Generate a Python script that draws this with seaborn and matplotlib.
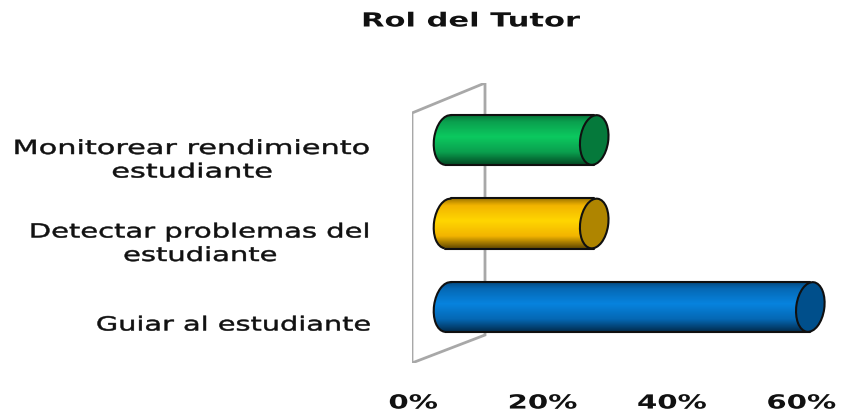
import numpy as np
import pandas as pd
import seaborn as sns
import matplotlib
matplotlib.use('Agg')
import matplotlib.pyplot as plt
from matplotlib.colors import LinearSegmentedColormap
from matplotlib.patches import Ellipse, Arc, Polygon
from matplotlib.patheffects import AbstractPathEffect
from matplotlib.transforms import Affine2D, ScaledTranslation

categories = ['Monitorear rendimiento\nestudiante', 'Detectar problemas del\nestudiante', 'Guiar al estudiante']
values = [22.6, 22.6, 56]
tick_values = [0, 20, 40, 60]
tick_labels = ['0%', '20%', '40%', '60%']
title = 'Rol del Tutor'

bright = ['#0CC95F', '#FFD600', '#0783DE']
mid = ['#0A9F4E', '#F2B400', '#0568B4']
dark = ['#034A24', '#5E4600', '#022C4E']
cap = ['#05793B', '#AF8500', '#004F8B']

W, H = 841, 415
wall_color = '#A8A8A8'
cap_rx = 14      # pixels, half width of the cylinder ends
bar_px = 50
tilt = -8
depth_shift = 5.4   # tick labels sit on the front of the wall, bars in the middle
label_stretch = [1.56, 1.49, 1.48]


class WideText(AbstractPathEffect):
    # the source image is stretched sideways, so stretch the glyphs the same way
    def __init__(self, sx, x0, stroke=0.0):
        super().__init__()
        self.sx = sx
        self.x0 = x0
        self.stroke = stroke

    def draw_path(self, renderer, gc, tpath, affine, rgbFace=None):
        stretch = Affine2D().translate(-self.x0, 0).scale(self.sx, 1).translate(self.x0, 0)
        gc0 = renderer.new_gc()
        gc0.copy_properties(gc)
        if self.stroke:
            gc0.set_linewidth(self.stroke)
            gc0.set_foreground(rgbFace)
        renderer.draw_path(gc0, tpath, affine + stretch, rgbFace)
        gc0.restore()


sns.set_theme(style='white')
plt.rcParams['font.family'] = ['DejaVu Sans']

df = pd.DataFrame({'categoria': categories, 'valor': values})

fig = plt.figure(figsize=(W / 100, H / 100), dpi=100)
left, right, top, bottom = 412, 830, 83, 363
ax = fig.add_axes([left / W, 1 - bottom / H, (right - left) / W, (bottom - top) / H])

# wall behind the bars
wall = Polygon([[0, 250 / 280], [73 / 418, 1], [73 / 418, 28 / 280], [0, 0]], closed=True,
               facecolor='white', edgecolor=wall_color, lw=2, transform=ax.transAxes, zorder=1)
ax.add_patch(wall)

sns.barplot(data=df, y='categoria', x='valor', hue='categoria', palette=bright, legend=False,
            width=0.6, saturation=1, ax=ax, zorder=2, linewidth=0)

for s in ax.spines.values():
    s.set_visible(False)
ax.patch.set_visible(False)
ax.set_xlabel('')
ax.set_ylabel('')

ax.set_xticks([t - depth_shift for t in tick_values])
ax.set_xticklabels(tick_labels, fontsize=14, fontweight='bold', color='#111111')
ax.tick_params(axis='x', length=0, pad=22)
ax.set_yticks(range(len(categories)))
ax.set_yticklabels(categories, fontsize=14, ha='right', ma='center', color='#111111', linespacing=1.3)
ax.tick_params(axis='y', length=0, pad=29)
for lab in ax.get_yticklabels():
    lab.set_transform(lab.get_transform() + ScaledTranslation(0, -16 / 100, fig.dpi_scale_trans))

# dark at the edges, brightest a little above the middle
shade = np.abs(np.linspace(-1, 1.25, 64)).reshape(-1, 1)
for i, val in enumerate(values):
    yc = i
    half = 0.3
    body = ax.patches[i + 1]
    at_zero = ScaledTranslation(0, yc, ax.transData)
    at_end = ScaledTranslation(val, yc, ax.transData)
    start = Ellipse((0, 0), 2 * cap_rx, bar_px, angle=tilt, transform=at_zero,
                    facecolor=bright[i], edgecolor='none', zorder=2)
    ax.add_patch(start)
    cmap = LinearSegmentedColormap.from_list('s', [(0, bright[i]), (0.55, mid[i]), (1, dark[i])])
    for clip in (start, body):
        im = ax.imshow(shade, cmap=cmap, extent=[-cap_rx / 6.47, val, yc + half, yc - half],
                       aspect='auto', zorder=2.5, vmin=0, vmax=1.25, interpolation='bilinear')
        im.set_clip_path(clip)
    ax.add_patch(Arc((0, 0), 2 * cap_rx, bar_px, angle=tilt, theta1=90, theta2=270, transform=at_zero,
                     color='#101010', lw=1.5, zorder=3))
    ax.plot([0.4, val], [yc - half, yc - half], color='#101010', lw=1.5, zorder=3, solid_capstyle='round')
    ax.plot([-0.4, val], [yc + half, yc + half], color='#101010', lw=1.5, zorder=3, solid_capstyle='round')
    ax.add_patch(Ellipse((0, 0), 2 * cap_rx, bar_px, angle=tilt, transform=at_end,
                         facecolor=cap[i], edgecolor='#101010', lw=1.5, zorder=4))

ax.set_xlim(-36 / 6.47, (right - 448) / 6.47)
ax.set_ylim((bottom - 140) / 83.5, (top - 140) / 83.5)

ttl = fig.text(471 / W, 1 - 21 / H, title, fontsize=14, fontweight='bold', ha='center', va='center', color='#111111')

fig.canvas.draw()
for lab, sx in zip(ax.get_yticklabels(), label_stretch):
    lab.set_path_effects([WideText(sx, lab.get_window_extent().x1, stroke=0.35)])
for lab in ax.get_xticklabels():
    box = lab.get_window_extent()
    lab.set_path_effects([WideText(1.5, (box.x0 + box.x1) / 2)])
box = ttl.get_window_extent()
ttl.set_path_effects([WideText(1.57, (box.x0 + box.x1) / 2)])

fig.savefig('out.png', dpi=100, facecolor='white')
